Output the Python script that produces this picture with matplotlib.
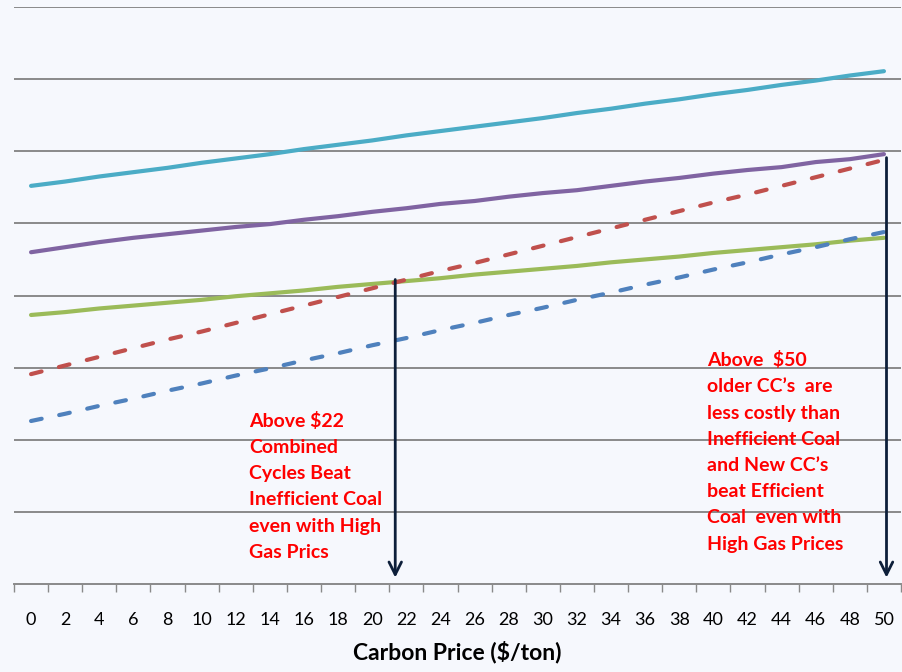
import numpy as np
import matplotlib
matplotlib.use("Agg")
import matplotlib.pyplot as plt

# carbon price categories ($/ton)
carbon_price = list(range(0, 51, 2))

# cost curves (no y labels shown in original; units arbitrary, grid every 10)
old_cc_high_gas = [55.2, 55.8, 56.5, 57.1, 57.7, 58.4, 59.0, 59.6, 60.3, 60.9, 61.5, 62.2, 62.8,
                   63.4, 64.0, 64.6, 65.3, 65.9, 66.6, 67.2, 67.9, 68.5, 69.2, 69.8, 70.5, 71.1]
new_cc_high_gas = [46.0, 46.7, 47.4, 48.0, 48.5, 49.0, 49.5, 49.9, 50.5, 51.0, 51.6, 52.1, 52.7,
                   53.1, 53.7, 54.2, 54.6, 55.2, 55.8, 56.3, 56.9, 57.4, 57.8, 58.5, 58.9, 59.6]
cc_gas = [37.3, 37.7, 38.2, 38.6, 39.0, 39.4, 39.9, 40.3, 40.7, 41.2, 41.6, 42.0, 42.4,
          42.9, 43.3, 43.7, 44.1, 44.6, 45.0, 45.4, 45.9, 46.3, 46.7, 47.1, 47.6, 48.0]
inefficient_coal = [29.1, 30.3, 31.5, 32.7, 33.9, 35.0, 36.2, 37.4, 38.6, 39.8, 41.0, 42.2, 43.4,
                    44.5, 45.7, 46.9, 48.1, 49.3, 50.5, 51.7, 52.9, 54.0, 55.2, 56.4, 57.6, 58.8]
efficient_coal = [22.6, 23.6, 24.7, 25.7, 26.8, 27.8, 28.9, 29.9, 31.0, 32.0, 33.1, 34.1, 35.2,
                  36.2, 37.3, 38.3, 39.4, 40.4, 41.5, 42.5, 43.6, 44.6, 45.7, 46.7, 47.8, 48.8]

note_22 = "Above $22\nCombined\nCycles Beat\nInefficient Coal\neven with High\nGas Prics"
note_50 = "Above  $50\nolder CC\u2019s  are\nless costly than\nInefficient Coal\nand New CC\u2019s\nbeat Efficient\nCoal  even with\nHigh Gas Prices"

BG = "#f6f8fd"
plt.rcParams['font.family'] = ['Lato', 'DejaVu Sans']

fig = plt.figure(figsize=(9.02, 6.72), dpi=100, facecolor=BG)
ax = fig.add_axes([14 / 902, 88 / 672, 887 / 902, 577 / 672])
ax.set_facecolor(BG)

lw = 3.0
dash = (0, (2.6, 4.3))
ax.plot(carbon_price, old_cc_high_gas, color="#4bacc6", lw=lw, solid_capstyle="round")
ax.plot(carbon_price, new_cc_high_gas, color="#8064a2", lw=lw, solid_capstyle="round")
ax.plot(carbon_price, cc_gas, color="#9bbb59", lw=lw, solid_capstyle="round")
ax.plot(carbon_price, inefficient_coal, color="#c0504d", lw=lw, ls=dash,
        dash_capstyle="round")
ax.plot(carbon_price, efficient_coal, color="#4f81bd", lw=lw, ls=dash,
        dash_capstyle="round")

ax.set_xlim(-1, 51)
ax.set_ylim(0, 80)
ax.set_yticks(np.arange(10, 81, 10))
ax.yaxis.grid(True, color="#8a8a8a", lw=1.4)
ax.set_axisbelow(True)
ax.tick_params(axis="y", left=False, labelleft=False)
ax.set_xticks(carbon_price)
ax.set_xticks(np.arange(-1, 52, 2), minor=True)
ax.tick_params(axis="x", which="major", length=0, labelsize=13, pad=20, colors="#000000")
ax.tick_params(axis="x", which="minor", length=6, width=1, color="#8a8a8a", direction="out")
for s in ["left", "right", "top"]:
    ax.spines[s].set_visible(False)
ax.spines["bottom"].set_color("#8a8a8a")
ax.spines["bottom"].set_linewidth(1.4)

ax.set_xlabel("Carbon Price ($/ton)", fontsize=16.5, fontweight="bold", labelpad=9)

arrow_kw = dict(arrowstyle="->,head_length=0.9,head_width=0.45", color="#0d1f3a", lw=2)
ax.annotate("", xy=(21.35, 0.5), xytext=(21.35, 42.6), arrowprops=arrow_kw)
ax.annotate("", xy=(50.15, 0.5), xytext=(50.15, 59.5), arrowprops=arrow_kw)

txt_kw = dict(color="#ff0000", fontsize=14, fontweight="bold", va="top", ha="left",
              linespacing=1.66)
ax.text(12.8, 23.9, note_22, **txt_kw)
ax.text(39.65, 32.3, note_50, **txt_kw)

fig.savefig("out.png", dpi=100, facecolor=BG)
